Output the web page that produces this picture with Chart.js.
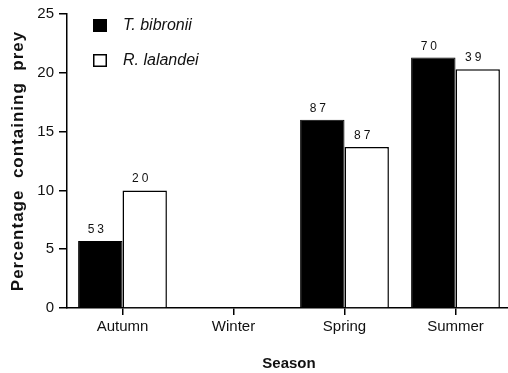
<!DOCTYPE html>
<html>
<head>
<meta charset="utf-8">
<script src="https://cdn.jsdelivr.net/npm/chart.js@4.4.1/dist/chart.umd.min.js"></script>
<style>
  html, body { margin: 0; padding: 0; background: #fff; overflow: hidden; }
  #wrap { width: 511px; height: 373px; position: relative; }
</style>
</head>
<body>
<div id="wrap"><canvas id="chart"></canvas></div>
<script>
var seasons = ['Autumn', 'Winter', 'Spring', 'Summer'];
var bibronii = [5.7, 0, 16.0, 21.3];
var lalandei = [10.0, 0, 13.7, 20.3];
// sample sizes printed above the bars
var bibronii_n = ['53', null, '87', '70'];
var lalandei_n = ['20', null, '87', '39'];
var yTicks = [0, 5, 10, 15, 20, 25];

var FONT = '"Liberation Sans", Arial, Helvetica, sans-serif';

// numbers above the bars, letter spaced like the original
var countLabels = {
  id: 'countLabels',
  afterDatasetsDraw: function(chart) {
    var ctx = chart.ctx;
    var counts = [bibronii_n, lalandei_n];
    ctx.save();
    ctx.font = '12px ' + FONT;
    ctx.fillStyle = '#111';
    ctx.textAlign = 'center';
    ctx.textBaseline = 'alphabetic';
    ctx.letterSpacing = '3px';
    chart.data.datasets.forEach(function(ds, d) {
      var meta = chart.getDatasetMeta(d);
      meta.data.forEach(function(bar, i) {
        if (counts[d][i] == null) return;
        ctx.fillText(counts[d][i], bar.x - 3, bar.y - 8);
      });
    });
    ctx.restore();
  }
};

// legend inside the plot, top left
var boxLegend = {
  id: 'boxLegend',
  afterDraw: function(chart) {
    var ctx = chart.ctx;
    ctx.save();
    ctx.font = 'italic 16px ' + FONT;
    ctx.textBaseline = 'middle';
    ctx.textAlign = 'left';
    chart.data.datasets.forEach(function(ds, d) {
      var y = 19 + d * 35;
      ctx.fillStyle = ds.backgroundColor;
      ctx.fillRect(93, y, 14, 13);
      ctx.strokeStyle = '#000';
      ctx.lineWidth = 1.5;
      ctx.strokeRect(93.75, y + 0.75, 12.5, 11.5);
      ctx.fillStyle = '#111';
      ctx.fillText(ds.label, 123, y + 7);
    });
    ctx.restore();
  }
};

// y title, spaced out
var yTitle = {
  id: 'yTitle',
  afterDraw: function(chart) {
    var ctx = chart.ctx;
    var area = chart.chartArea;
    ctx.save();
    ctx.translate(18, (area.top + area.bottom) / 2);
    ctx.rotate(-Math.PI / 2);
    ctx.font = 'bold 17px ' + FONT;
    ctx.letterSpacing = '1px';
    ctx.fillStyle = '#111';
    ctx.textAlign = 'center';
    ctx.textBaseline = 'middle';
    ctx.fillText('Percentage  containing  prey', 0, 0);
    ctx.restore();
  }
};

var chart = new Chart(document.getElementById('chart'), {
  type: 'bar',
  data: {
    labels: seasons,
    datasets: [{
      label: 'T. bibronii',
      data: bibronii,
      backgroundColor: '#000',
      borderColor: '#000',
      borderWidth: 1
    }, {
      label: 'R. lalandei',
      data: lalandei,
      backgroundColor: '#fff',
      borderColor: '#000',
      borderWidth: 1.5
    }]
  },
  options: {
    responsive: true,
    maintainAspectRatio: false,
    animation: false,
    layout: { padding: { top: 14, right: 0, left: 0, bottom: 0 } },
    datasets: {
      bar: { categoryPercentage: 0.8, barPercentage: 1 }
    },
    plugins: {
      legend: { display: false },
      tooltip: { enabled: false }
    },
    scales: {
      x: {
        afterFit: function(scale) { scale.height = 65; },
        grid: {
          display: true, drawOnChartArea: false, drawTicks: true,
          tickLength: 7, offset: false, color: '#000', lineWidth: 1.5
        },
        border: { display: true, color: '#000', width: 1.5 },
        ticks: { padding: 3, color: '#111', font: { family: FONT, size: 15 } },
        title: {
          display: true, text: 'Season', color: '#111',
          font: { family: FONT, size: 15, weight: 'bold' },
          padding: { top: 0, bottom: 0 }
        }
      },
      y: {
        min: 0,
        max: 25,
        afterFit: function(scale) { scale.width = 67; },
        afterBuildTicks: function(scale) {
          scale.ticks = yTicks.map(function(v) { return { value: v }; });
        },
        grid: {
          display: true, drawOnChartArea: false, drawTicks: true,
          tickLength: 8, color: '#000', lineWidth: 1.5
        },
        border: { display: true, color: '#000', width: 1.5 },
        ticks: { padding: 5, color: '#111', font: { family: FONT, size: 15 } }
      }
    }
  },
  plugins: [countLabels, boxLegend, yTitle]
});
</script>
</body>
</html>
